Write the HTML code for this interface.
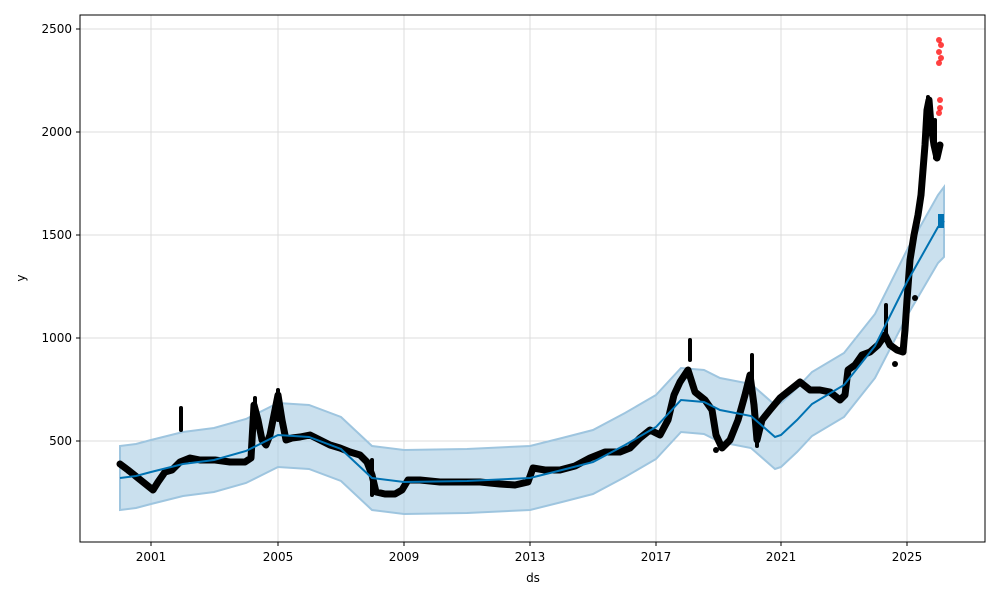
<!DOCTYPE html>
<html><head><meta charset="utf-8"><style>
body{margin:0;background:#fff}
svg text{font-family:"DejaVu Sans","Liberation Sans",sans-serif;font-size:12px;fill:#000}
</style></head><body>
<svg width="1000" height="600" viewBox="0 0 1000 600" xmlns="http://www.w3.org/2000/svg">
<rect width="1000" height="600" fill="#fff"/>
<g stroke="#dcdcdc" stroke-width="1">
<line x1="151" y1="15" x2="151" y2="542"/><line x1="278" y1="15" x2="278" y2="542"/>
<line x1="404" y1="15" x2="404" y2="542"/><line x1="530" y1="15" x2="530" y2="542"/>
<line x1="656" y1="15" x2="656" y2="542"/><line x1="781" y1="15" x2="781" y2="542"/>
<line x1="907" y1="15" x2="907" y2="542"/>
<line x1="80" y1="29" x2="985" y2="29"/><line x1="80" y1="132" x2="985" y2="132"/>
<line x1="80" y1="235" x2="985" y2="235"/><line x1="80" y1="338" x2="985" y2="338"/>
<line x1="80" y1="441" x2="985" y2="441"/>
</g>
<polygon fill="#a6cbe3" fill-opacity="0.6" stroke="#9ec5df" stroke-width="2" points="
120,446 136,444 151,440 183,432 214,428 246,419 278,403 309,405 341,417 372,446 404,450 467,449 530,446 562,438 593,430 625,413 656,395 681,368 704,370 720,378 751,384 775,405 781,403 797,388 812,372 844,353 875,314 907,250 938,195 944,187
944,257 938,263 907,316 875,378 844,417 812,436 797,452 781,467 775,469 751,448 720,442 704,434 681,432 656,459 625,477 593,494 562,502 530,510 467,513 404,514 372,510 341,481 309,469 278,467 246,483 214,492 183,496 151,504 136,508 120,510"/>
<g fill="none" stroke="#000" stroke-linejoin="round" stroke-linecap="round">
<polyline stroke-width="7" points="
120,464 128,470 138,478 148,486 153,490 158,482 165,472 172,470 180,462 190,458 200,460 215,460 230,462 245,462 251,458 254,405 258,420 262,440 266,445 270,435 275,410 278,395 282,420 286,440 292,438 300,437 310,435 320,440 330,445 340,448 350,452 360,455 367,462 372,475 376,492 385,494 395,494 402,490 408,480 420,480 440,482 460,482 480,482 500,484 515,485 528,482 533,468 545,470 560,470 575,466 590,458 605,452 620,452 630,448 640,438 650,430 660,435 668,420 674,395 680,382 688,370 695,392 705,400 712,410 716,435 722,448 730,440 738,420 745,395 750,375 754,405 757,440 762,420 770,410 780,398 790,390 800,382 810,390 820,390 830,392 840,400 845,395 848,370 855,365 862,355 870,352 878,345 885,335 890,345 897,350 903,352 905,330 907,300 910,260 914,235 918,215 921,195 923,170 925,145 927,110 929,100 931,125 934,145 937,158 940,145"/>
<polyline stroke-width="4" points="181,408 181,430"/>
<polyline stroke-width="4" points="255,398 255,420"/>
<polyline stroke-width="4" points="278,390 278,420"/>
<polyline stroke-width="4" points="690,340 690,360"/>
<polyline stroke-width="4" points="752,355 752,380"/>
<polyline stroke-width="4" points="757,420 757,446"/>
<polyline stroke-width="4" points="886,305 886,340"/>
<polyline stroke-width="4" points="928,97 928,130"/>
<polyline stroke-width="4" points="935,120 935,158"/>
<polyline stroke-width="4" points="372,460 372,495"/>
</g>
<g fill="#000">
<circle cx="895" cy="364" r="3"/><circle cx="915" cy="298" r="3"/><circle cx="716" cy="450" r="3"/><circle cx="158" cy="418" r="0"/>
</g>
<polyline fill="none" stroke="#0072b2" stroke-width="2" points="
120,478 136,476 151,472 183,464 214,460 246,451 278,435 309,437 341,449 372,478 404,482 467,481 530,478 562,470 593,462 625,445 656,427 681,400 704,402 720,410 751,416 775,437 781,435 797,420 812,404 844,385 875,346 907,282 938,227 944,221"/>
<rect x="938" y="214" width="6" height="14" fill="#0072b2"/>
<g fill="#ff0000" fill-opacity="0.75">
<circle cx="939" cy="40" r="3"/><circle cx="941" cy="45" r="3"/><circle cx="939" cy="52" r="3"/><circle cx="941" cy="58" r="3"/><circle cx="939" cy="63" r="3"/><circle cx="940" cy="100" r="3"/><circle cx="940" cy="108" r="3"/><circle cx="939" cy="113" r="3"/>
</g>
<rect x="80" y="15" width="905" height="527" fill="none" stroke="#000" stroke-width="1"/>
<g stroke="#000"><line x1="151" y1="542" x2="151" y2="546"/><line x1="278" y1="542" x2="278" y2="546"/><line x1="404" y1="542" x2="404" y2="546"/><line x1="530" y1="542" x2="530" y2="546"/><line x1="656" y1="542" x2="656" y2="546"/><line x1="781" y1="542" x2="781" y2="546"/><line x1="907" y1="542" x2="907" y2="546"/>
<line x1="76" y1="29" x2="80" y2="29"/><line x1="76" y1="132" x2="80" y2="132"/><line x1="76" y1="235" x2="80" y2="235"/><line x1="76" y1="338" x2="80" y2="338"/><line x1="76" y1="441" x2="80" y2="441"/></g>
<g text-anchor="middle">
<text x="151" y="561">2001</text><text x="278" y="561">2005</text><text x="404" y="561">2009</text><text x="530" y="561">2013</text><text x="656" y="561">2017</text><text x="781" y="561">2021</text><text x="907" y="561">2025</text>
<text x="533" y="582">ds</text>
</g>
<g text-anchor="end">
<text x="72" y="33">2500</text><text x="72" y="136">2000</text><text x="72" y="239">1500</text><text x="72" y="342">1000</text><text x="72" y="445">500</text>
</g>
<text x="25" y="278" text-anchor="middle" transform="rotate(-90 25 278)">y</text>
</svg>
</body></html>
